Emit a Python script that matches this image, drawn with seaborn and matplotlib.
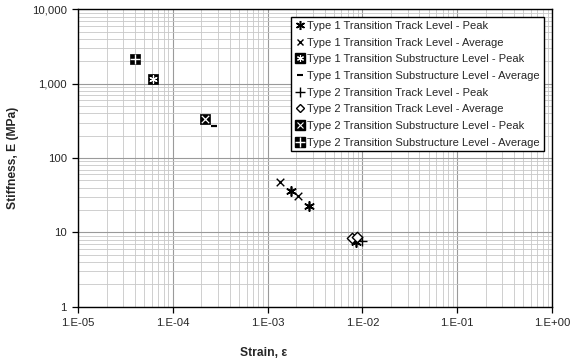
import numpy as np
import pandas as pd
import matplotlib
matplotlib.use("Agg")
import matplotlib.pyplot as plt
import seaborn as sns
from matplotlib.lines import Line2D
from matplotlib.ticker import FixedLocator, LogLocator, NullFormatter

# ---- data ----
t1_track_peak_x = [1.77e-3, 2.73e-3, 8.5e-3]
t1_track_peak_y = [35.9, 22.7, 7.4]
t1_track_avg_x = [1.35e-3, 2.07e-3]
t1_track_avg_y = [47.4, 30.7]
t1_sub_peak_x = [6.2e-5]
t1_sub_peak_y = [1150]
t1_sub_avg_x = [2.75e-4]
t1_sub_avg_y = [268]
t2_track_peak_x = [1.0e-2]
t2_track_peak_y = [7.6]
t2_track_avg_x = [7.8e-3, 8.7e-3]
t2_track_avg_y = [8.3, 8.7]
t2_sub_peak_x = [2.2e-4]
t2_sub_peak_y = [330]
t2_sub_avg_x = [4.0e-5]
t2_sub_avg_y = [2150]

series_labels = [
    "Type 1 Transition Track Level - Peak",
    "Type 1 Transition Track Level - Average",
    "Type 1 Transition Substructure Level - Peak",
    "Type 1 Transition Substructure Level - Average",
    "Type 2 Transition Track Level - Peak",
    "Type 2 Transition Track Level - Average",
    "Type 2 Transition Substructure Level - Peak",
    "Type 2 Transition Substructure Level - Average",
]
x_tick_values = [1e-5, 1e-4, 1e-3, 1e-2, 1e-1, 1e0]
x_tick_labels = ["1.E-05", "1.E-04", "1.E-03", "1.E-02", "1.E-01", "1.E+00"]
y_tick_values = [1, 10, 100, 1000, 10000]
y_tick_labels = ["1", "10", "100", "1,000", "10,000"]

sns.set_style("white")
plt.rcParams["font.family"] = ["Liberation Sans", "DejaVu Sans"]

fig = plt.figure(figsize=(5.81, 3.60), dpi=100)
ax = fig.add_axes([78 / 581, 1 - 306.7 / 360, 474 / 581, 297.4 / 360])

def df(x, y):
    return pd.DataFrame({"strain": x, "stiffness": y})

AST = (6, 2, 0)
# base marks
specs = [
    (t1_track_peak_x, t1_track_peak_y, dict(marker=AST, s=45, color="black", linewidth=1.2)),
    (t1_track_avg_x, t1_track_avg_y, dict(marker="x", s=30, color="black", linewidth=1.0)),
    (t1_sub_peak_x, t1_sub_peak_y, dict(marker="s", s=55, color="black", edgecolor="black", linewidth=0.5)),
    (t1_sub_avg_x, t1_sub_avg_y, dict(marker="_", s=25, color="black", linewidth=1.6)),
    (t2_track_peak_x, t2_track_peak_y, dict(marker="+", s=50, color="black", linewidth=1.0)),
    (t2_track_avg_x, t2_track_avg_y, dict(marker="D", s=28, facecolor="white", edgecolor="black", linewidth=1.0)),
    (t2_sub_peak_x, t2_sub_peak_y, dict(marker="s", s=55, color="black", edgecolor="black", linewidth=0.5)),
    (t2_sub_avg_x, t2_sub_avg_y, dict(marker="s", s=55, color="black", edgecolor="black", linewidth=0.5)),
]
for x, y, kw in specs:
    sns.scatterplot(data=df(x, y), x="strain", y="stiffness", ax=ax, zorder=3, legend=False, **kw)

# white inner glyphs for the filled squares
sns.scatterplot(data=df(t1_sub_peak_x, t1_sub_peak_y), x="strain", y="stiffness", ax=ax,
                marker=AST, s=28, color="white", linewidth=0.9, zorder=4, legend=False)
sns.scatterplot(data=df(t2_sub_peak_x, t2_sub_peak_y), x="strain", y="stiffness", ax=ax,
                marker="x", s=28, color="white", linewidth=0.9, zorder=4, legend=False)
sns.scatterplot(data=df(t2_sub_avg_x, t2_sub_avg_y), x="strain", y="stiffness", ax=ax,
                marker="+", s=55, color="white", linewidth=1.0, zorder=4, legend=False)

ax.set_xscale("log")
ax.set_yscale("log")
ax.set_xlim(1e-5, 1e0)
ax.set_ylim(1, 1e4)

ax.xaxis.set_major_locator(FixedLocator(x_tick_values))
ax.set_xticklabels(x_tick_labels)
ax.yaxis.set_major_locator(FixedLocator(y_tick_values))
ax.set_yticklabels(y_tick_labels)
ax.xaxis.set_minor_locator(LogLocator(base=10, subs=np.arange(2, 10)))
ax.yaxis.set_minor_locator(LogLocator(base=10, subs=np.arange(2, 10)))
ax.xaxis.set_minor_formatter(NullFormatter())
ax.yaxis.set_minor_formatter(NullFormatter())
ax.tick_params(which="major", length=4, width=0.9, color="black", labelsize=8.2, pad=4,
               bottom=True, left=True, top=False, right=False)
ax.tick_params(which="minor", length=0)

ax.grid(which="major", color="#9a9a9a", linewidth=0.8)
ax.grid(which="minor", color="#c8c8c8", linewidth=0.6)
ax.set_axisbelow(True)
for sp in ax.spines.values():
    sp.set_visible(True)
    sp.set_color("black")
    sp.set_linewidth(1.0)

ax.set_xlabel("Strain, ε", fontsize=8.7, fontweight="bold")
ax.set_ylabel("Stiffness, E (MPa)", fontsize=8.7, fontweight="bold")
ax.xaxis.set_label_coords(0.392, -0.135)
ax.yaxis.set_label_coords(-0.125, 0.5)

# legend handles
def L(**kw):
    base = dict(linestyle="none", color="black")
    base.update(kw)
    return Line2D([], [], **base)

handles = [
    L(marker=AST, markersize=6.5, markeredgewidth=1.1),
    L(marker="x", markersize=5, markeredgewidth=1.0),
    (L(marker="s", markersize=6.5), L(marker=AST, markersize=5, markeredgecolor="white", markeredgewidth=0.8)),
    L(marker="_", markersize=5, markeredgewidth=1.5),
    L(marker="+", markersize=6.5, markeredgewidth=1.0),
    L(marker="D", markersize=4.5, markerfacecolor="white", markeredgewidth=1.0),
    (L(marker="s", markersize=6.5), L(marker="x", markersize=5, markeredgecolor="white", markeredgewidth=0.8)),
    (L(marker="s", markersize=6.5), L(marker="+", markersize=6.5, markeredgecolor="white", markeredgewidth=1.0)),
]
leg = ax.legend(handles, series_labels, loc="upper right", bbox_to_anchor=(0.983, 0.974),
                fontsize=8.0, frameon=True, fancybox=False, framealpha=1, edgecolor="black",
                handlelength=0.8, handletextpad=0.3, labelspacing=0.6, borderpad=0.35,
                borderaxespad=0.0)
leg.get_frame().set_linewidth(1.0)

fig.savefig("out.png", dpi=100)
